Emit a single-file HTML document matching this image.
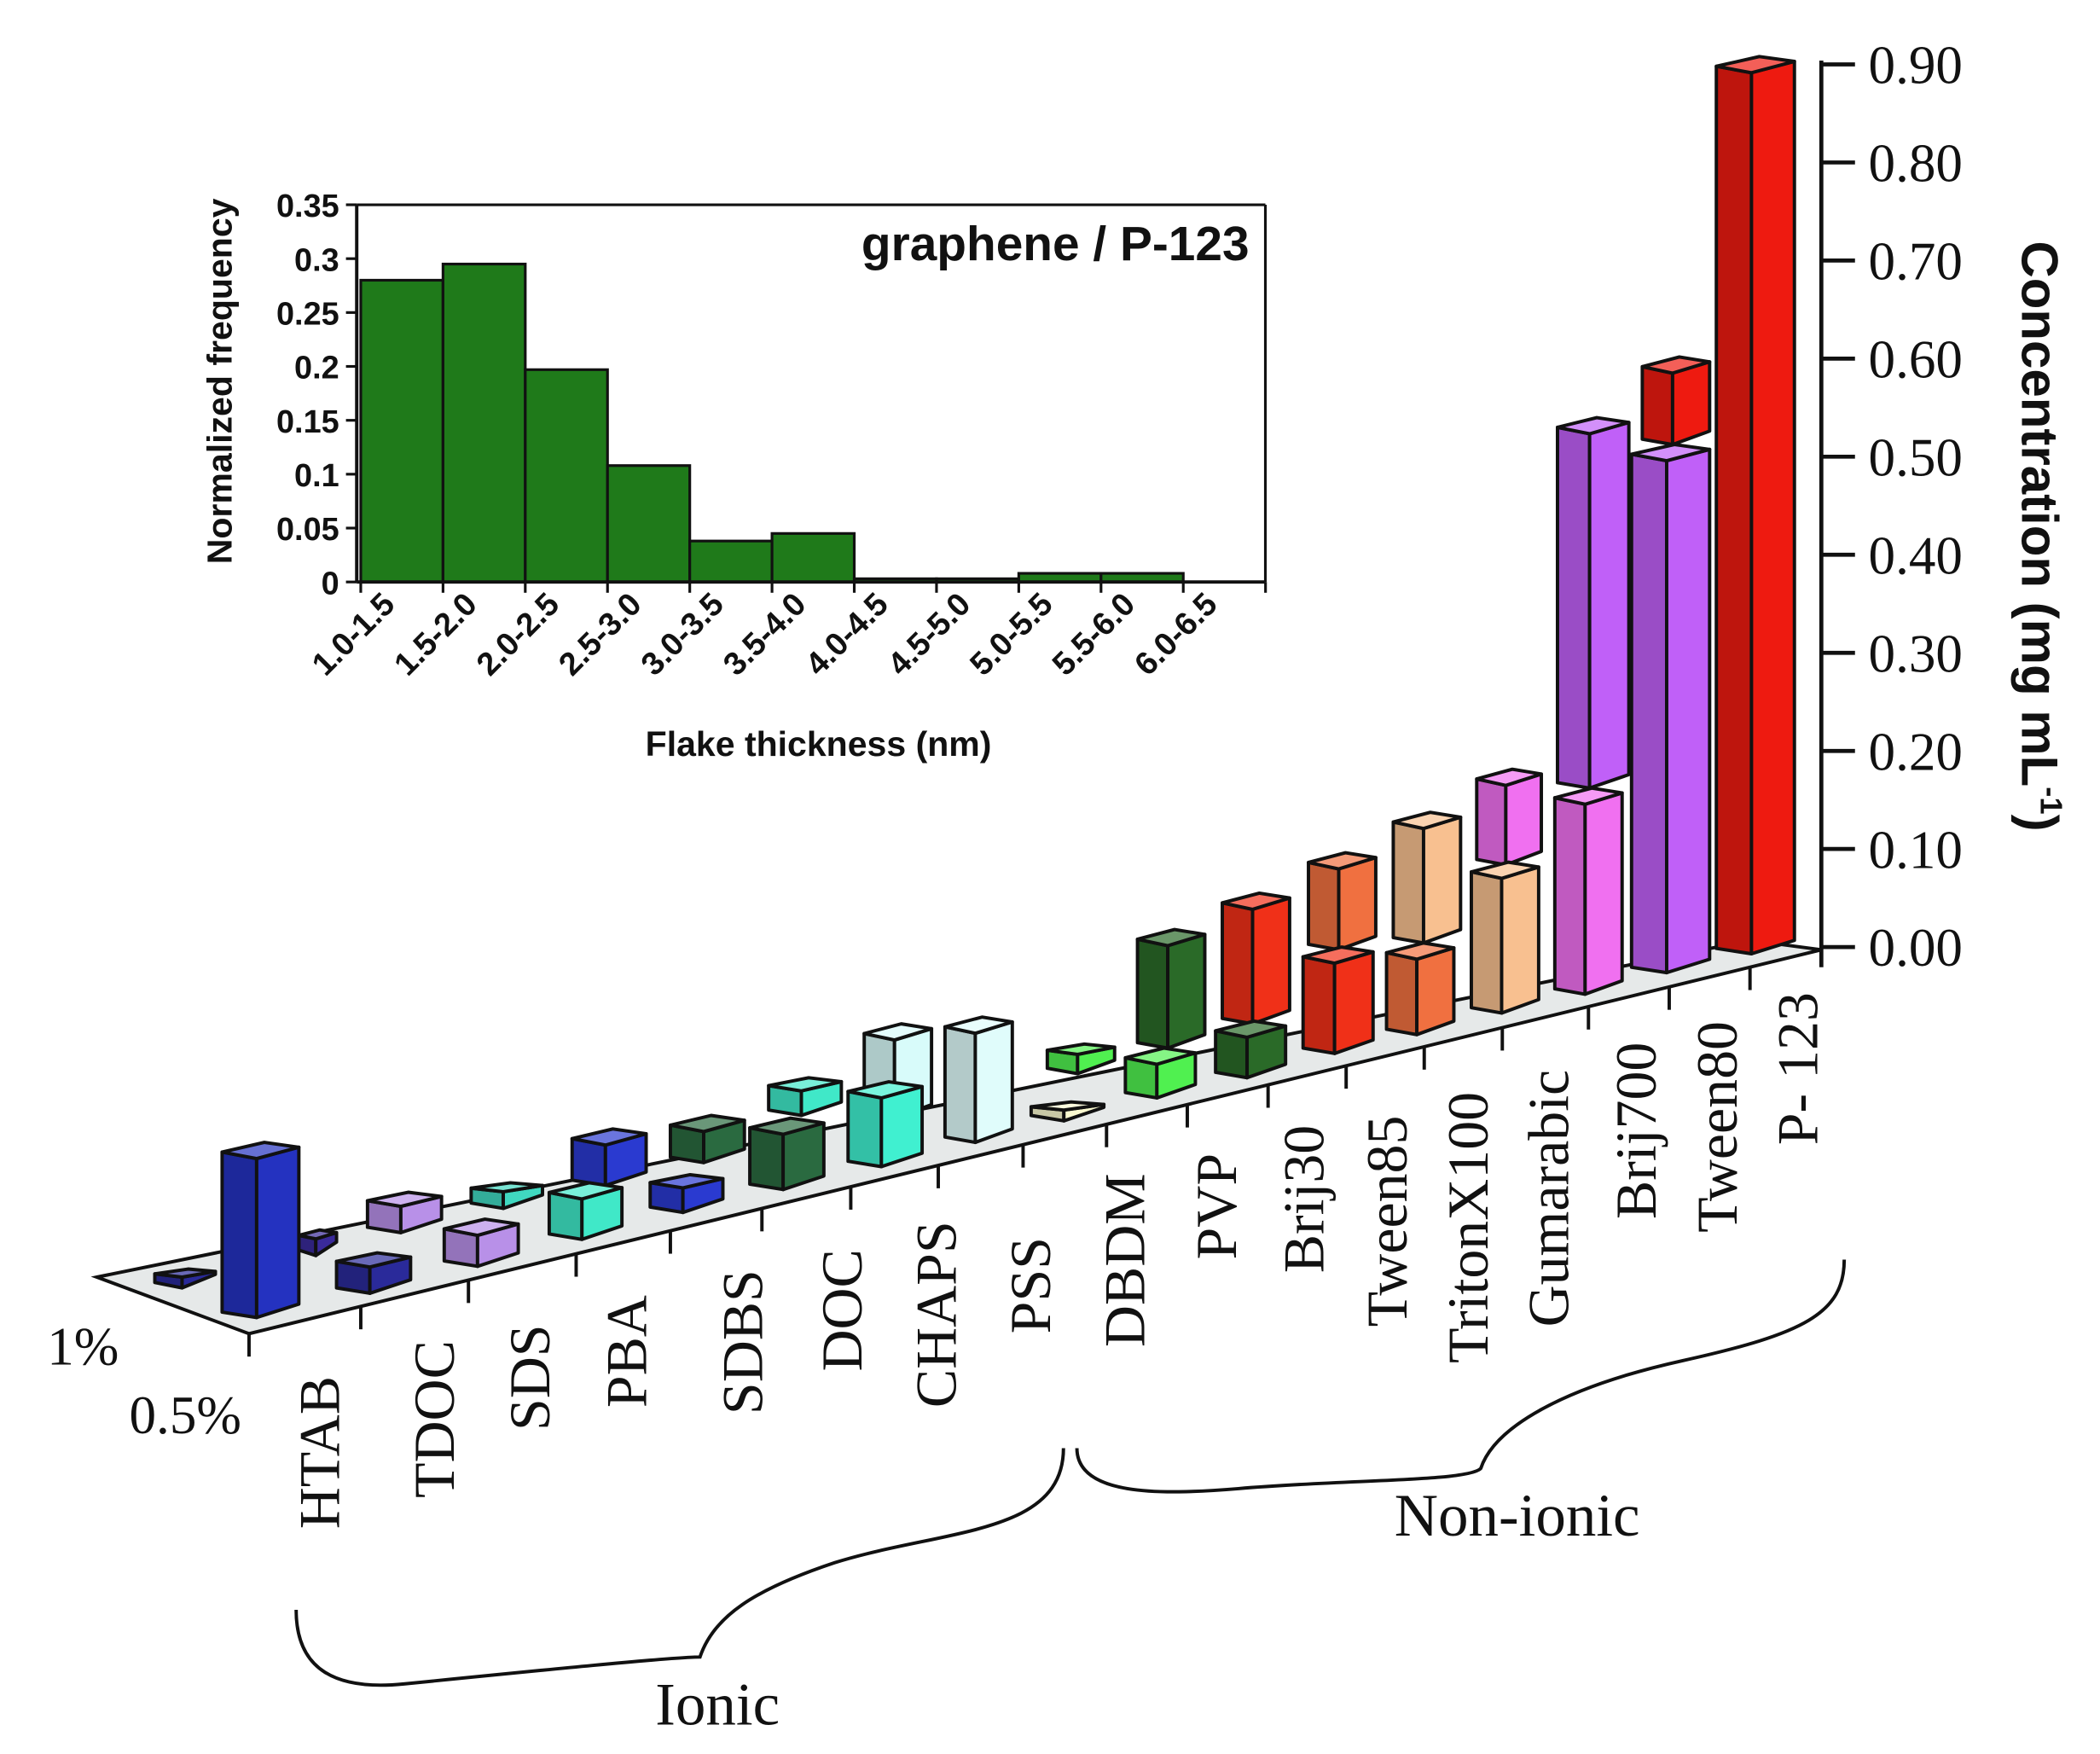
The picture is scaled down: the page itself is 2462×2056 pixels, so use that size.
<!DOCTYPE html>
<html><head><meta charset="utf-8"><style>html,body{margin:0;padding:0;background:#fff}svg{display:block}</style></head>
<body>
<svg id="s" width="2462" height="2056" viewBox="0 0 1560 1302" preserveAspectRatio="none" xmlns="http://www.w3.org/2000/svg">
<rect width="1560" height="1302" fill="#fff"/>
<polygon points="72,948 1300,698 1353,705 185,990" fill="#e6e9e9" stroke="#111" stroke-width="2.5"/>
<g id="ticks" stroke="#111" stroke-width="2.5"></g>
<g id="bars" stroke="#111" stroke-width="2.5" stroke-linejoin="round"></g>
<g stroke="#111" stroke-width="3">
<line x1="1353" y1="45" x2="1353" y2="718"/>
</g>
<g id="yax" font-family="Liberation Serif, serif" font-size="40" fill="#111"></g>
<text transform="translate(1502,398) rotate(90)" text-anchor="middle" font-family="Liberation Sans, sans-serif" font-weight="bold" font-size="38" fill="#111">Concentration (mg mL<tspan font-size="23" dy="-14">-1</tspan><tspan dy="14">)</tspan></text>
<g id="labs" font-family="Liberation Serif, serif" font-size="43" fill="#111"></g>
<text x="35" y="1013" font-family="Liberation Serif, serif" font-size="40" fill="#111">1%</text>
<text x="96" y="1064" font-family="Liberation Serif, serif" font-size="40" fill="#111">0.5%</text>
<path d="M220,1195 C220,1240 250,1255 300,1250 C400,1240 500,1230 520,1230 C530,1200 560,1180 620,1160 C700,1135 790,1140 790,1075" fill="none" stroke="#111" stroke-width="2.5"/>
<text x="533" y="1280" text-anchor="middle" font-family="Liberation Serif, serif" font-size="45" fill="#111">Ionic</text>
<path d="M800,1075 C800,1110 860,1110 920,1105 C1000,1098 1090,1100 1100,1090 C1110,1060 1160,1030 1250,1010 C1340,990 1370,975 1370,935" fill="none" stroke="#111" stroke-width="2.5"/>
<text x="1127" y="1140" text-anchor="middle" font-family="Liberation Serif, serif" font-size="45" fill="#111">Non-ionic</text>
<g id="inset"></g>
</svg>
<script>
var NS="http://www.w3.org/2000/svg";
function el(p,t,a,txt){var e=document.createElementNS(NS,t);for(var k in a)e.setAttribute(k,a[k]);if(txt!=null)e.textContent=txt;p.appendChild(e);return e;}
function shade(c,f){var n=parseInt(c.slice(1),16),r=n>>16,g=(n>>8)&255,b=n&255;
 function m(v){return Math.max(0,Math.min(255,Math.round(f<1?v*f:v+(255-v)*(f-1))));}
 return "rgb("+m(r)+","+m(g)+","+m(b)+")";}
var B=document.getElementById("bars");
function box(x0,x1,yt,yb,c){var w=x1-x0,xm=x0+w*0.45,h=Math.min(12,Math.max(6,(yb-yt)*0.35));
 el(B,"polygon",{points:[x0,yt+h*0.6,xm,yt+h,xm,yb,x0,yb-4].join(","),fill:shade(c,0.8)});
 el(B,"polygon",{points:[xm,yt+h,x1,yt+h*0.3,x1,yb-10,xm,yb].join(","),fill:c});
 el(B,"polygon",{points:[x0,yt+h*0.6,x0+w*0.55,yt,x1,yt+h*0.3,xm,yt+h].join(","),fill:shade(c,1.3)});}
var bars=[
[115,160,942,956,"#2a2a9a"],[222,250,913,932,"#3a2a9a"],[273,328,885,915,"#b890e8"],[350,403,878,897,"#40d8c0"],
[425,480,838,880,"#2a3ad0"],[498,553,828,863,"#2a6a40"],[571,625,800,828,"#40e8c8"],[642,692,760,830,"#d8fbfa"],
[778,828,775,797,"#50f050"],[845,895,690,778,"#2a6a28"],[908,958,663,760,"#f03018"],[972,1022,633,705,"#f07040"],
[1035,1085,603,700,"#f8c090"],[1097,1145,571,642,"#f070f0"],[1157,1210,310,585,"#c060f8"],[1220,1270,265,330,"#ee1a10"],
[1275,1333,42,708,"#ee1a10"],
[165,222,848,978,"#2432c0"],[250,305,930,960,"#2a2a9a"],[330,385,905,940,"#b890e8"],[408,462,878,920,"#40e8c8"],
[483,537,872,900,"#2a3ad0"],[557,612,830,883,"#2a6a40"],[630,685,803,866,"#40f0d0"],[702,752,755,848,"#e0fcfb"],
[766,820,818,832,"#fafad0"],[836,888,778,815,"#50f050"],[903,955,758,800,"#2a6a28"],[968,1020,703,782,"#f03018"],
[1030,1080,700,768,"#f07040"],[1093,1143,640,752,"#f8c090"],[1155,1205,585,738,"#f070f0"],[1212,1270,330,722,"#c060f8"]];
bars.forEach(function(b){box(b[0],b[1],b[2],b[3],b[4]);});
var T=document.getElementById("ticks");
[185,268,348,428,498,566,632,697,760,822,882,942,1000,1058,1116,1180,1240,1300].forEach(function(x){var y=990-0.244*(x-185);el(T,"line",{x1:x,y1:y,x2:x,y2:y+17});});
var Y=document.getElementById("yax");
for(var i=0;i<=9;i++){var y=703-i*72.8;el(Y,"line",{x1:1353,y1:y,x2:1378,y2:y,stroke:"#111","stroke-width":3});
 el(Y,"text",{x:1388,y:y+14},(i/10).toFixed(2));}
var L=document.getElementById("labs");
[["HTAB",237,1135],["TDOC",322,1112],["SDS",393,1062],["PBA",465,1045],["SDBS",551,1050],["DOC",625,1018],["CHAPS",695,1045],
["PSS",765,990],["DBDM",835,1000],["PVP",903,935],["Brij30",968,945],["Tween85",1030,985],["TritonX100",1090,1012],
["Gumarabic",1150,985],["Brij700",1215,905],["Tween80",1275,915],["P- 123",1335,850]].forEach(function(l){
 el(L,"text",{transform:"translate("+(l[1]+15)+","+l[2]+") rotate(-90)"},l[0]);});
var I=document.getElementById("inset");
var x0=268,x1=940,y0=432,yt=152,bw=61.1;
var vals=[.28,.295,.197,.108,.038,.045,.003,.003,.008,.008];
vals.forEach(function(v,k){var h=v/0.35*(y0-yt);el(I,"rect",{x:x0+k*bw,y:y0-h,width:bw,height:h,fill:"#1f7a1a",stroke:"#111","stroke-width":2});});
el(I,"polyline",{points:[x1,yt,x1,y0].join(","),fill:"none",stroke:"#111","stroke-width":2});
el(I,"line",{x1:x0-3,y1:yt,x2:x1,y2:yt,stroke:"#111","stroke-width":2});
el(I,"line",{x1:x0-3,y1:yt,x2:x0-3,y2:y0,stroke:"#111","stroke-width":2.5});
el(I,"line",{x1:x0-3,y1:y0,x2:x1,y2:y0,stroke:"#111","stroke-width":2.5});
var yl=["0","0.05","0.1","0.15","0.2","0.25","0.3","0.35"];
yl.forEach(function(t,k){var y=y0-k*40;el(I,"line",{x1:x0-11,y1:y,x2:x0-3,y2:y,stroke:"#111","stroke-width":2});
 el(I,"text",{x:252,y:y+9,"text-anchor":"end","font-family":"Liberation Sans, sans-serif","font-weight":"bold","font-size":24,fill:"#111"},t);});
var xl=["1.0-1.5","1.5-2.0","2.0-2.5","2.5-3.0","3.0-3.5","3.5-4.0","4.0-4.5","4.5-5.0","5.0-5.5","5.5-6.0","6.0-6.5"];
for(var k=0;k<=11;k++){var x=x0+k*bw;el(I,"line",{x1:x,y1:y0,x2:x,y2:y0+8,stroke:"#111","stroke-width":2});}
xl.forEach(function(t,k){var x=x0+k*bw+bw/2-4;el(I,"text",{transform:"translate("+x+",450) rotate(-45)","text-anchor":"end","font-family":"Liberation Sans, sans-serif","font-weight":"bold","font-size":24,fill:"#111"},t);});
el(I,"text",{transform:"translate(172,283) rotate(-90)","text-anchor":"middle","font-family":"Liberation Sans, sans-serif","font-weight":"bold","font-size":26,fill:"#111"},"Normalized frequency");
el(I,"text",{x:608,y:561,"text-anchor":"middle","font-family":"Liberation Sans, sans-serif","font-weight":"bold","font-size":26,fill:"#111"},"Flake thickness (nm)");
el(I,"text",{x:928,y:193,"text-anchor":"end","font-family":"Liberation Sans, sans-serif","font-weight":"bold","font-size":36,fill:"#111"},"graphene / P-123");
</script>
</body></html>
